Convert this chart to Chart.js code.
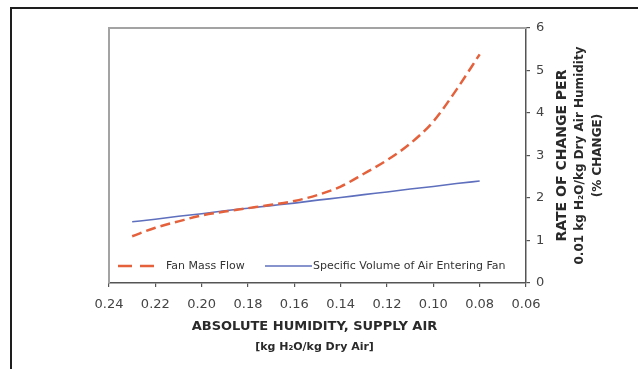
<!DOCTYPE html>
<html>
<head>
<meta charset="utf-8">
<script src="https://cdn.jsdelivr.net/npm/chart.js@4.4.1/dist/chart.umd.min.js"></script>
<style>
  html, body { margin: 0; padding: 0; background: #fff; }
  #wrap { position: relative; width: 638px; height: 369px; overflow: hidden; }
  #frame { position: absolute; left: 10px; top: 7px; width: 700px; height: 400px;
           border-top: 2px solid #1e1e1e; border-left: 2px solid #1e1e1e; }
  #chart { position: absolute; left: 0; top: 0; }
</style>
</head>
<body>
<div id="wrap">
  <div id="frame"></div>
  <canvas id="chart" width="638" height="369"></canvas>
</div>
<script>
// absolute humidity of supply air, kg H2O / kg dry air
var humidity = [0.23, 0.22, 0.21, 0.20, 0.19, 0.18, 0.17, 0.16, 0.15, 0.14, 0.13, 0.12, 0.11, 0.10, 0.09, 0.08];
// % change per 0.01 kg/kg
var fanMassFlow = [1.10, 1.30, 1.45, 1.59, 1.68, 1.76, 1.84, 1.93, 2.07, 2.27, 2.57, 2.89, 3.28, 3.80, 4.55, 5.38];
var specificVolume = [1.44, 1.50, 1.57, 1.63, 1.70, 1.76, 1.82, 1.88, 1.95, 2.01, 2.08, 2.14, 2.21, 2.27, 2.34, 2.40];

var xTicks = [0.24, 0.22, 0.20, 0.18, 0.16, 0.14, 0.12, 0.10, 0.08, 0.06];
var yTicks = [0, 1, 2, 3, 4, 5, 6];

var seriesNames = ['Fan Mass Flow', 'Specific Volume of Air Entering Fan'];
var xTitle = ['ABSOLUTE HUMIDITY, SUPPLY AIR', '[kg H\u2082O/kg Dry Air]'];
var yTitle = ['RATE OF CHANGE PER', '0.01 kg H\u2082O/kg Dry Air Humidity', '(% CHANGE)'];

function points(ys) {
    var out = [];
    for (var i = 0; i < humidity.length; i++) {
        out.push({x: humidity[i], y: ys[i]});
    }
    return out;
}

var FONT = 'DejaVu Sans';

// grey frame on the top and left of the plot area
var plotFrame = {
    id: 'plotFrame',
    beforeDatasetsDraw: function (chart) {
        var a = chart.chartArea, ctx = chart.ctx;
        ctx.save();
        ctx.strokeStyle = '#a3a3a3';
        ctx.lineWidth = 2;
        ctx.beginPath();
        ctx.moveTo(a.left, a.bottom);
        ctx.lineTo(a.left, a.top);
        ctx.lineTo(a.right, a.top);
        ctx.stroke();
        ctx.restore();
    }
};

// legend sitting inside the plot, along the bottom
var innerLegend = {
    id: 'innerLegend',
    afterDatasetsDraw: function (chart) {
        var a = chart.chartArea, ctx = chart.ctx;
        var y = a.bottom - 17;
        var items = [
            {x0: a.left + 9, x1: a.left + 45, tx: a.left + 57, dash: [14, 8]},
            {x0: a.left + 156, x1: a.left + 203, tx: a.left + 204, dash: []}
        ];
        ctx.save();
        ctx.font = '11px "' + FONT + '"';
        ctx.textBaseline = 'middle';
        items.forEach(function (it, i) {
            var ds = chart.data.datasets[i];
            ctx.strokeStyle = ds.borderColor;
            ctx.lineWidth = ds.borderWidth;
            ctx.setLineDash(it.dash);
            ctx.beginPath();
            ctx.moveTo(it.x0, y);
            ctx.lineTo(it.x1, y);
            ctx.stroke();
            ctx.setLineDash([]);
            ctx.fillStyle = '#333';
            ctx.fillText(ds.label, it.tx, y);
        });
        ctx.restore();
    }
};

// axis titles: bottom one centred under the plot, right one read bottom-to-top
var axisTitles = {
    id: 'axisTitles',
    afterDraw: function (chart) {
        var a = chart.chartArea, ctx = chart.ctx;
        var cx = (a.left + a.right) / 2 - 3;
        ctx.save();
        ctx.fillStyle = '#2a2a2a';
        ctx.textAlign = 'center';
        ctx.textBaseline = 'middle';
        ctx.font = 'bold 13px "' + FONT + '"';
        ctx.fillText(xTitle[0], cx, 327);
        ctx.font = 'bold 11px "' + FONT + '"';
        ctx.fillText(xTitle[1], cx, 347);

        var cy = (a.top + a.bottom) / 2;
        var xs = [562, 580, 598];
        var sizes = [14, 12, 12];
        for (var i = 0; i < yTitle.length; i++) {
            ctx.save();
            ctx.font = 'bold ' + sizes[i] + 'px "' + FONT + '"';
            ctx.translate(xs[i], cy);
            ctx.rotate(-Math.PI / 2);
            ctx.fillText(yTitle[i], 0, 0);
            ctx.restore();
        }
        ctx.restore();
    }
};

var ctx = document.getElementById('chart').getContext('2d');
new Chart(ctx, {
    type: 'line',
    data: {
        datasets: [
            {
                label: seriesNames[0],
                data: points(fanMassFlow),
                borderColor: '#e4613c',
                borderWidth: 2.5,
                borderDash: [10, 5],
                pointRadius: 0,
                cubicInterpolationMode: 'monotone',
                fill: false
            },
            {
                label: seriesNames[1],
                data: points(specificVolume),
                borderColor: '#5e6fbd',
                borderWidth: 1.6,
                pointRadius: 0,
                cubicInterpolationMode: 'monotone',
                fill: false
            }
        ]
    },
    options: {
        responsive: false,
        animation: false,
        devicePixelRatio: 1,
        layout: {padding: {left: 109, top: 28, right: 0, bottom: 0}},
        plugins: {legend: {display: false}, tooltip: {enabled: false}},
        scales: {
            x: {
                type: 'linear',
                reverse: true,
                min: 0.06,
                max: 0.24,
                afterBuildTicks: function (s) {
                    s.ticks = xTicks.map(function (v) { return {value: v}; });
                },
                afterFit: function (s) { s.height = 86; },
                ticks: {
                    color: '#444',
                    font: {family: FONT, size: 13},
                    padding: 10,
                    maxRotation: 0,
                    autoSkip: false,
                    callback: function (v) { return Number(v).toFixed(2); }
                },
                grid: {drawOnChartArea: false, tickLength: 4, color: '#555', lineWidth: 1.2},
                border: {color: '#555', width: 1.5}
            },
            y: {
                position: 'right',
                min: 0,
                max: 6,
                afterBuildTicks: function (s) {
                    s.ticks = yTicks.map(function (v) { return {value: v}; });
                },
                afterFit: function (s) { s.width = 112; },
                ticks: {
                    color: '#444',
                    font: {family: FONT, size: 13},
                    padding: 6
                },
                grid: {drawOnChartArea: false, tickLength: 4, color: '#555', lineWidth: 1.2},
                border: {color: '#555', width: 1.5}
            }
        }
    },
    plugins: [plotFrame, innerLegend, axisTitles]
});
</script>
</body>
</html>
